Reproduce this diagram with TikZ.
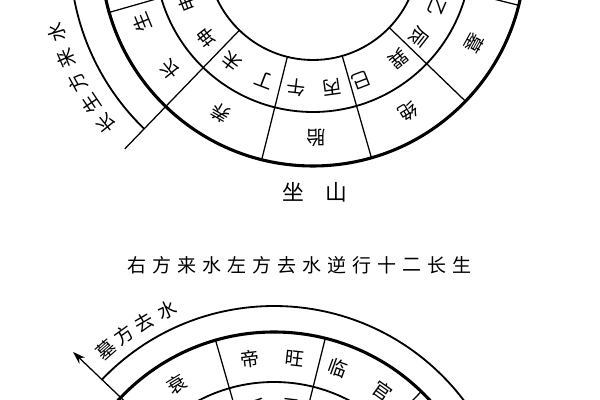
\documentclass[tikz,border=0pt]{standalone}
\usepackage{fontspec}
\newfontfamily\cjk{Noto Sans CJK SC}
\usetikzlibrary{arrows.meta}
\begin{document}
\begin{tikzpicture}[x=0.025cm,y=0.025cm,
  thickring/.style={line width=2.2pt},
  ring/.style={line width=1.3pt},
  spoke/.style={line width=0.9pt},
  ch/.style={font=\cjk\fontsize{13.5}{13.5}\selectfont, inner sep=0pt},
  ttl/.style={font=\cjk\fontsize{13.5}{13.5}\selectfont, inner sep=0pt},
  big/.style={font=\cjk\fontsize{15.5}{15.5}\selectfont, inner sep=0pt},
]
\useasboundingbox (0,0) rectangle (600,400);
\fill[white] (0,0) rectangle (600,400);
\begin{scope}
\clip (0,0) rectangle (600,400);
% ---------- top chart ----------
\coordinate (T) at (313,446);
\draw[ring] (T) circle (106);
\draw[ring] (T) circle (158);
\draw[thickring] (T) circle (212);
\draw[ring] ([shift={(226:243)}]T) arc (226:165:243);
\foreach \a in {166,196,256,286,316,346}
  \draw[spoke] ([shift={(\a:106)}]T) -- ([shift={(\a:212)}]T);
\draw[spoke] ([shift={(226:106)}]T) -- ([shift={(226:271)}]T);
\foreach \a/\t in {219/长,202/生,240/养,271/胎,301/绝,331/墓}
  \node[ch,rotate=\a-90] at ([shift={(\a:184)}]T) {\t};
\foreach \a/\t in {201/申,218/坤,233/未,249/丁,263/午,278/丙,291/巳,309/巽,322/辰,337/乙}
  \node[ch,rotate=\a-90] at ([shift={(\a:135)}]T) {\t};
\foreach \a/\t in {219.3/长,214/生,208.7/方,203/来,197/水}
  \node[ch,rotate=\a-90] at ([shift={(\a:268)}]T) {\t};
\node[big] (zuo) at (293,208) {坐};
\node[big] (shan) at (336,208) {山};
% ---------- title ----------
\foreach \t [count=\i from 0] in {右,方,来,水,左,方,去,水,逆,行,十,二,长,生}
  \node[ttl] at (137+25*\i,135) {\t};
% ---------- bottom chart ----------
\coordinate (B) at (274,-144);
\draw[ring] (B) circle (162);
\draw[thickring] (B) circle (212);
\draw[ring] ([shift={(136.3:238)}]B) arc (136.3:20:238);
\foreach \a in {16,46,76,106,166}
  \draw[spoke] ([shift={(\a:110)}]B) -- ([shift={(\a:212)}]B);
\draw[spoke,-{Stealth[length=9pt,width=6pt]}] ([shift={(136.3:110)}]B) -- ([shift={(136.3:278)}]B);
\foreach \a/\t in {97.4/帝,83.6/旺,70/临,54.7/官,121.4/衰}
  \node[ch,rotate=\a-90] at ([shift={(\a:187)}]B) {\t};
\foreach \a/\t in {97/壬,83/子}
  \node[ch,rotate=\a-90] at ([shift={(\a:138)}]B) {\t};
\foreach \a/\t in {131/墓,125.8/方,120.3/去,114.6/水}
  \node[ch,rotate=\a-90] at ([shift={(\a:257)}]B) {\t};
\end{scope}
\end{tikzpicture}
\end{document}
